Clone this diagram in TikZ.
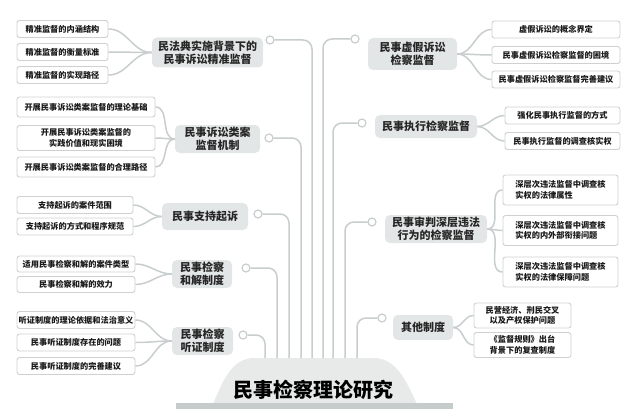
\documentclass[tikz,border=0pt]{standalone}
\usepackage{fontspec}
\setmainfont{Noto Sans CJK SC}
\usepackage{tikz}
\usetikzlibrary{calc}

\definecolor{linkgray}{HTML}{C8CDCD}
\definecolor{boxgray}{HTML}{E3E6E6}
\definecolor{leafline}{HTML}{CFD1D1}
\definecolor{rootgray}{HTML}{E8EAEA}
\definecolor{bargray}{HTML}{C6CCCC}

\begin{document}
\begin{tikzpicture}[x=1pt,y=-1pt]
\tikzset{
	branch node/.style = {rounded corners=5, fill=boxgray, text=black!85, align=center, inner sep=0,
		font=\fontsize{11}{13}\selectfont\bfseries},
	leaf node/.style = {rounded corners=2.5, draw=leafline, line width=0.9, fill=white, text=black!90,
		align=center, inner sep=0, minimum height=17, font=\fontsize{8.2}{10.5}\selectfont\bfseries},
	hollow dot/.style = {circle, draw=linkgray, line width=1.2, fill=white, inner sep=0, minimum size=8},
	link/.style = {draw=linkgray, line width=1.5},
	trunk/.style = {draw=linkgray, line width=1.5, rounded corners=9},
	root title/.style = {font=\fontsize{20}{22}\selectfont\bfseries, text=black},
}
\useasboundingbox (0,0) rectangle (640,420);

% root
\fill[rootgray] (213,404) .. controls (224,378) and (232,360) .. (252,358) -- (376,358)
	.. controls (396,360) and (405,378) .. (417,404) -- cycle;
\fill[bargray] (176,403) rectangle (453,409);
\node[root title] (root) at (313,390) {民事检察理论研究};

% branches
\node[branch node, minimum width=111, minimum height=30] (b1) at (207.5,52.5) {民法典实施背景下的\\民事诉讼精准监督};
\node[branch node, minimum width=85, minimum height=28] (b2) at (217.5,139) {民事诉讼类案\\监督机制};
\node[branch node, minimum width=86, minimum height=27] (b3) at (205,216.5) {民事支持起诉};
\node[branch node, minimum width=60, minimum height=28] (b4) at (202,274) {民事检察\\和解制度};
\node[branch node, minimum width=61, minimum height=28] (b5) at (202.5,341) {民事检察\\听证制度};
\node[branch node, minimum width=89, minimum height=32] (b6) at (412.5,54) {民事虚假诉讼\\检察监督};
\node[branch node, minimum width=102, minimum height=23] (b7) at (426,126.5) {民事执行检察监督};
\node[branch node, minimum width=102, minimum height=28] (b8) at (436,229) {民事审判深层违法\\行为的检察监督};
\node[branch node, minimum width=60, minimum height=25] (b9) at (423,327.5) {其他制度};

% trunk
\foreach \n/\dx/\dy/\tx in {1/270/40/312,2/269/138/301,3/258/214/289,4/246/268/277,5/243/335/265}{
	\node[hollow dot] (d\n) at (\dx,\dy) {};
	\coordinate (t\n) at (\tx,358);
	\draw[trunk] (d\n.east) -| (t\n);
}
\foreach \n/\dx/\dy/\tx in {6/355/39/323,7/362/123/333,8/372/222/345,9/382/318/357}{
	\node[hollow dot] (d\n) at (\dx,\dy) {};
	\coordinate (t\n) at (\tx,358);
	\draw[trunk] (d\n.west) -| (t\n);
}

% leaves, left
\foreach \y/\txt [count=\i] in {29/精准监督的内涵结构,52/精准监督的衡量标准,75/精准监督的实现路径}{
	\node[leaf node, minimum width=91] (b1-\i) at (62.5,\y) {\txt};
	\draw[link] (b1.west) to[out=180,in=0] (b1-\i.east);
}
\foreach \y/\h/\txt [count=\i] in {107/20/开展民事诉讼类案监督的理论基础,
		138/25/{开展民事诉讼类案监督的\\实践价值和现实困境},167/20/开展民事诉讼类案监督的合理路径}{
	\node[leaf node, minimum width=138, minimum height=\h] (b2-\i) at (86,\y) {\txt};
	\draw[link] (b2.west) to[out=180,in=0] (b2-\i.east);
}
\foreach \y/\txt [count=\i] in {205/支持起诉的案件范围,226.5/支持起诉的方式和程序规范}{
	\node[leaf node, minimum width=116] (b3-\i) at (75,\y) {\txt};
	\draw[link] (b3.west) to[out=180,in=0] (b3-\i.east);
}
\foreach \y/\txt [count=\i] in {264/适用民事检察和解的案件类型,284.5/民事检察和解的效力}{
	\node[leaf node, minimum width=118, minimum height=16] (b4-\i) at (76,\y) {\txt};
	\draw[link] (b4.west) to[out=180,in=0] (b4-\i.east);
}
\foreach \y/\txt [count=\i] in {320/听证制度的理论依据和法治意义,342.5/民事听证制度存在的问题,366/民事听证制度的完善建议}{
	\node[leaf node, minimum width=118] (b5-\i) at (76,\y) {\txt};
	\draw[link] (b5.west) to[out=180,in=0] (b5-\i.east);
}

% leaves, right
\foreach \y/\txt [count=\i] in {29.5/虚假诉讼的概念界定,55/民事虚假诉讼检察监督的困境,79.5/民事虚假诉讼检察监督完善建议}{
	\node[leaf node, minimum width=128] (b6-\i) at (556,\y) {\txt};
	\draw[link] (b6.east) to[out=0,in=180] (b6-\i.west);
}
\foreach \y/\txt [count=\i] in {115.5/强化民事执行监督的方式,141/民事执行监督的调查核实权}{
	\node[leaf node, minimum width=115] (b7-\i) at (562.5,\y) {\txt};
	\draw[link] (b7.east) to[out=0,in=180] (b7-\i.west);
}
\foreach \y/\txt [count=\i] in {190/实权的法律属性,230.5/实权的内外部衔接问题,272/实权的法律保障问题}{
	\node[leaf node, minimum width=115, minimum height=30, align=left] (b8-\i) at (560.5,\y)
		{深层次违法监督中调查核\\\txt};
	\draw[link] (b8.east) to[out=0,in=180] (b8-\i.west);
}
\foreach \y/\txt [count=\i] in {315.5/{民营经济、刑民交叉\\以及产权保护问题},345/{《监督规则》出台\\背景下的复查制度}}{
	\node[leaf node, minimum width=97, minimum height=25] (b9-\i) at (522.5,\y) {\txt};
	\draw[link] (b9.east) to[out=0,in=180] (b9-\i.west);
}

\end{tikzpicture}
\end{document}
